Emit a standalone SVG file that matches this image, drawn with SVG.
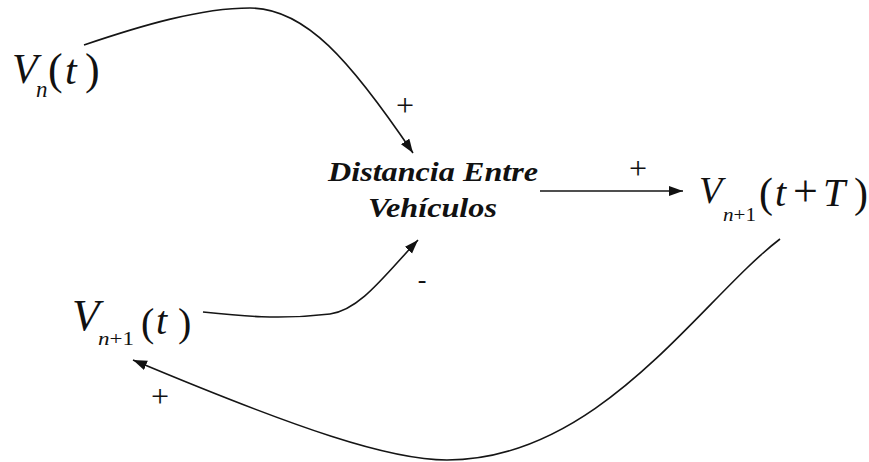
<svg xmlns="http://www.w3.org/2000/svg" width="869" height="462" viewBox="0 0 869 462">
<defs>
<style>
text{font-family:"Liberation Serif","Times New Roman",serif;fill:#111}
.i{font-style:italic}
.bi{font-weight:bold;font-style:italic}
.c{fill:none;stroke:#151515;stroke-width:1.6}
</style>
<marker id="ah" markerUnits="userSpaceOnUse" markerWidth="16" markerHeight="12" refX="14" refY="5" orient="auto">
<path d="M0,0 L14,5 L0,10 z" fill="#111"/>
</marker>
</defs>
<rect width="869" height="462" fill="#fff"/>
<g id="node-vn">
<text class="i" x="12" y="83" font-size="42">V</text>
<text class="i" x="36" y="97" font-size="23">n</text>
<text x="48" y="84" font-size="44">(</text>
<text class="i" x="65" y="84" font-size="42">t</text>
<text x="85" y="84" font-size="44">)</text>
</g>
<g id="node-distancia">
<text class="bi" x="328" y="181" font-size="27" textLength="210" lengthAdjust="spacingAndGlyphs">Distancia Entre</text>
<text class="bi" x="368" y="217" font-size="27" textLength="129" lengthAdjust="spacingAndGlyphs">Vehículos</text>
</g>
<g id="node-vn1-tT">
<text class="i" x="699" y="203" font-size="38">V</text>
<text x="723" y="221" font-size="18" textLength="33" lengthAdjust="spacingAndGlyphs"><tspan class="i">n</tspan>+1</text>
<text x="759" y="207" font-size="42">(</text>
<text class="i" x="775" y="206" font-size="40">t</text>
<text x="793" y="206" font-size="44">+</text>
<text class="i" x="823" y="206" font-size="40">T</text>
<text x="854" y="207" font-size="42">)</text>
</g>
<g id="node-vn1-t">
<text class="i" x="72" y="330" font-size="45">V</text>
<text x="98" y="345" font-size="19" textLength="36" lengthAdjust="spacingAndGlyphs"><tspan class="i">n</tspan>+1</text>
<text x="141" y="336" font-size="40">(</text>
<text class="i" x="156" y="334" font-size="40">t</text>
<text x="178" y="336" font-size="40">)</text>
</g>
<g id="connectors">
<path class="c" d="M84,45 C140,26 200,8 250,8 C305,8 350,60 413,153" marker-end="url(#ah)"/>
<path class="c" d="M540,191 L683,191" marker-end="url(#ah)"/>
<path class="c" d="M203,312 C240,316 280,320 330,314 C360,310 385,275 418,240" marker-end="url(#ah)"/>
<path class="c" d="M780,239 C700,300 600,460 447,460 C390,460 300,430 133,360" marker-end="url(#ah)"/>
<text x="405" y="116" font-size="32" text-anchor="middle">+</text>
<text x="638" y="179" font-size="32" text-anchor="middle">+</text>
<text x="422" y="288" font-size="26" text-anchor="middle">-</text>
<text x="160" y="407" font-size="32" text-anchor="middle">+</text>
</g>
</svg>
